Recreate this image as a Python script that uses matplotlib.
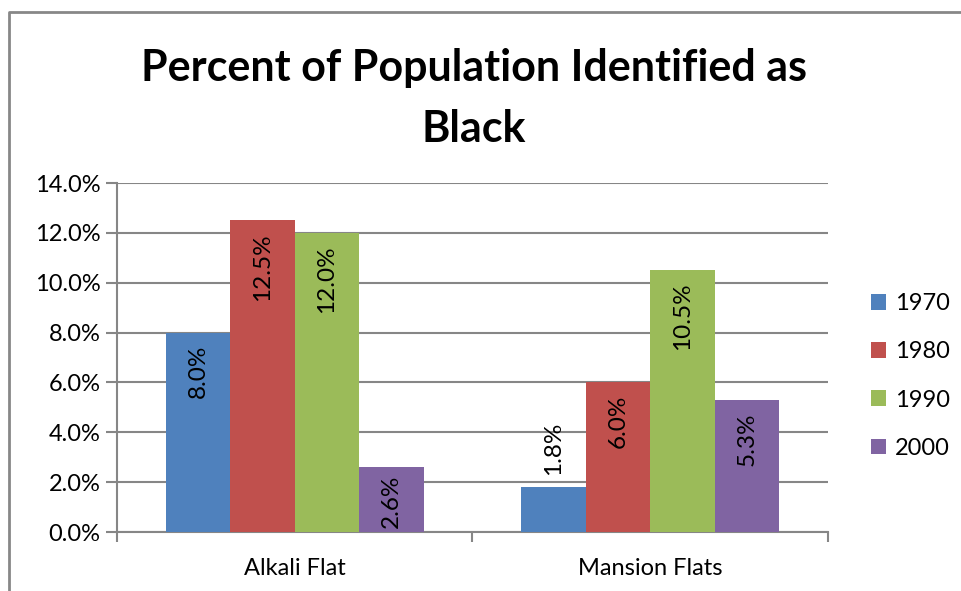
import numpy as np
import matplotlib
matplotlib.use('Agg')
import matplotlib.pyplot as plt
from matplotlib.lines import Line2D
from matplotlib.ticker import FuncFormatter

plt.rcParams['font.family'] = ['Lato', 'DejaVu Sans']

# data
categories = ['Alkali Flat', 'Mansion Flats']
years = ['1970', '1980', '1990', '2000']
values = {
    '1970': [8.0, 1.8],
    '1980': [12.5, 6.0],
    '1990': [12.0, 10.5],
    '2000': [2.6, 5.3],
}
colors = ['#4F81BD', '#C0504D', '#9BBB59', '#8064A2']
title = 'Percent of Population Identified as\nBlack'

fig = plt.figure(figsize=(9.61, 5.91), dpi=100)
ax = fig.add_axes([0.1217, 0.0998, 0.7399, 0.5905])

x = np.arange(len(categories))
bar_w = 0.1814
labels = []
for i, yr in enumerate(years):
    off = (i - 1.5) * bar_w
    bars = ax.bar(x + off, values[yr], width=bar_w, color=colors[i],
                  edgecolor='none', label=yr, zorder=3)
    for b, v in zip(bars, values[yr]):
        t = ax.annotate(f'{v:.1f}%', (b.get_x() + b.get_width() / 2, v),
                        xytext=(0, -9), textcoords='offset points',
                        rotation=90, ha='center', va='top', fontsize=17.5,
                        color='black', zorder=4)
        labels.append((t, v))

ax.set_xlim(-0.5, 1.5)
ax.set_ylim(0, 14)
ax.set_yticks(np.arange(0, 15, 2))
ax.yaxis.set_major_formatter(FuncFormatter(lambda v, p: f'{v:.1f}%'))
ax.set_xticks(x)
ax.set_xticklabels(categories)
ax.set_xticks([-0.5, 0.5, 1.5], minor=True)
ax.tick_params(axis='x', which='major', length=0, pad=19, labelsize=17)
ax.tick_params(axis='x', which='minor', length=7, width=1.5, color='#868686', direction='out')
ax.tick_params(axis='y', length=8, width=1.5, color='#868686', labelsize=17, pad=4)

ax.grid(axis='y', color='#868686', linewidth=1.5, zorder=0)
for s in ['top', 'right']:
    ax.spines[s].set_visible(False)
for s in ['left', 'bottom']:
    ax.spines[s].set_color('#868686')
    ax.spines[s].set_linewidth(1.5)

fig.suptitle(title, x=0.4932, y=0.918, fontsize=31, fontweight='bold',
             linespacing=1.62, va='top')

fig.legend(*ax.get_legend_handles_labels(), loc='center left',
           bbox_to_anchor=(871 / 961, 1 - 376 / 591), frameon=False,
           fontsize=17, handlelength=0.65, handleheight=0.65,
           handletextpad=0.35, labelspacing=1.15, borderpad=0,
           borderaxespad=0)

# push labels that do not fit inside the bar
fig.canvas.draw()
r = fig.canvas.get_renderer()
ax_bottom = ax.transData.transform((0, 0))[1]
for t, v in labels:
    bb = t.get_window_extent(r)
    bar_top = ax.transData.transform((0, v))[1]
    if bar_top - ax_bottom < bb.height + 8:
        t.set_va('bottom')
        t.xyann = (0, 9)
    elif bb.y0 < ax_bottom + 4:
        t.set_va('bottom')
        t.xy = (t.xy[0], 0)
        t.xyann = (0, 3)

# chart frame (only left and top edges visible in the crop)
fig.add_artist(Line2D([0.0094, 0.0094, 1.0], [0.0, 0.9797, 0.9797],
                      transform=fig.transFigure, color='#878787', linewidth=2))

fig.savefig('out.png', dpi=100)
